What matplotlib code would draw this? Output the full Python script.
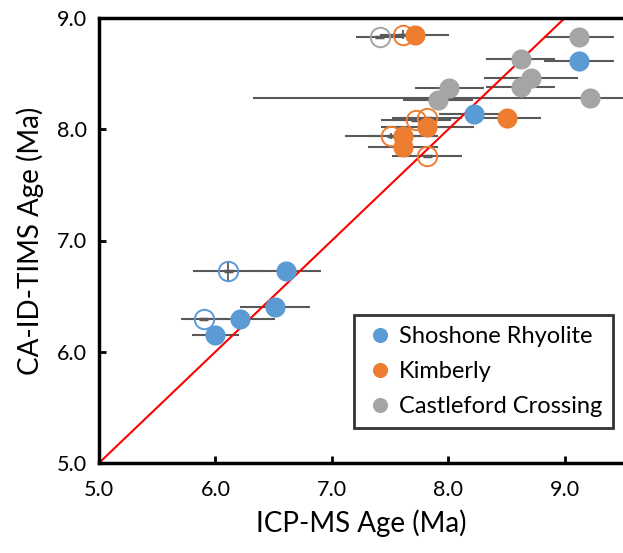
import matplotlib.pyplot as plt

plt.rcParams['font.family'] = ['Lato', 'DejaVu Sans']

# Shoshone Rhyolite
sho_x = [9.12, 8.22, 6.61, 6.51, 6.21, 6.00]
sho_y = [8.61, 8.14, 6.73, 6.40, 6.29, 6.15]
sho_xerr = [0.3, 0.3, 0.3, 0.3, 0.3, 0.2]
sho_open_x = [6.11, 5.90]
sho_open_y = [6.73, 6.29]
sho_open_xerr = [0.3, 0.2]
sho_open_yerr = [0.09, 0.0]

# Kimberly
kim_x = [7.71, 8.50, 7.82, 7.61, 7.61]
kim_y = [8.85, 8.10, 8.02, 7.94, 7.84]
kim_xerr = [0.3, 0.3, 0.4, 0.3, 0.3]
kim_open_x = [7.61, 7.72, 7.82, 7.51, 7.82]
kim_open_y = [8.85, 8.08, 8.10, 7.94, 7.76]
kim_open_xerr = [0.05, 0.3, 0.3, 0.4, 0.3]
kim_open_yerr = [0.04, 0.0, 0.0, 0.03, 0.0]

# Castleford Crossing
cas_x = [9.12, 8.62, 8.71, 8.62, 9.22, 8.01, 7.91]
cas_y = [8.83, 8.63, 8.46, 8.38, 8.28, 8.37, 8.26]
cas_xerr = [0.3, 0.3, 0.4, 0.3, 2.9, 0.3, 0.3]
cas_open_x = [7.41]
cas_open_y = [8.83]
cas_open_xerr = [0.2]
cas_open_yerr = [0.0]

colors = {'sho': '#5B9BD5', 'kim': '#ED7D31', 'cas': '#A5A5A5'}
ebar = '#595959'

fig = plt.figure(figsize=(6.23, 5.53), dpi=100)
ax = fig.add_axes([99 / 623, 90 / 553, 524 / 623, 445 / 553])

# 1:1 line
ax.plot([5, 9.5], [5, 9.5], color='red', lw=1.5, zorder=2)

groups = [
    ('Shoshone Rhyolite', colors['sho'], sho_x, sho_y, sho_xerr,
     sho_open_x, sho_open_y, sho_open_xerr, sho_open_yerr),
    ('Kimberly', colors['kim'], kim_x, kim_y, kim_xerr,
     kim_open_x, kim_open_y, kim_open_xerr, kim_open_yerr),
    ('Castleford Crossing', colors['cas'], cas_x, cas_y, cas_xerr,
     cas_open_x, cas_open_y, cas_open_xerr, cas_open_yerr),
]

for label, c, x, y, xe, ox, oy, oxe, oye in groups:
    ax.errorbar(x, y, xerr=xe, fmt='none', ecolor=ebar, elinewidth=1.5, zorder=1)
    ax.errorbar(ox, oy, xerr=oxe, fmt='none', ecolor=ebar, elinewidth=1.5, zorder=1)
    # small analytical errors on the open symbols
    ax.errorbar(ox, oy, xerr=0.04, fmt='none', ecolor=ebar, elinewidth=2.5, zorder=1)
    ax.errorbar(ox, oy, yerr=oye, fmt='none', ecolor=ebar, elinewidth=1.3, zorder=1)
    ax.plot(ox, oy, 'o', ms=14, mfc='none', mec=c, mew=1.4, zorder=3)
    ax.plot(x, y, 'o', ms=14.5, color=c, mec='none', zorder=4, label=label)

ax.set_xlim(5, 9.5)
ax.set_ylim(5, 9)
ax.set_xticks([5, 6, 7, 8, 9])
ax.set_yticks([5, 6, 7, 8, 9])
ax.xaxis.set_major_formatter(plt.FormatStrFormatter('%.1f'))
ax.yaxis.set_major_formatter(plt.FormatStrFormatter('%.1f'))
ax.tick_params(direction='in', length=5, width=2, labelsize=15.5, pad=9)
ax.tick_params(axis='x', pad=12)
for s in ['left', 'bottom', 'top']:
    ax.spines[s].set_linewidth(2.5)
ax.spines['right'].set_visible(False)

ax.set_xlabel('ICP-MS Age (Ma)', fontsize=20, labelpad=7)
ax.set_ylabel('CA-ID-TIMS Age (Ma)', fontsize=20, labelpad=9)

leg = ax.legend(loc='lower right', bbox_to_anchor=(0.981, 0.079), fontsize=17,
                frameon=True, fancybox=False, handletextpad=0.15,
                markerscale=0.75, borderpad=0.45, labelspacing=0.6,
                handlelength=1.3, borderaxespad=0)
leg.get_frame().set_edgecolor('black')
leg.get_frame().set_linewidth(2)

fig.savefig('out.png', dpi=100)
